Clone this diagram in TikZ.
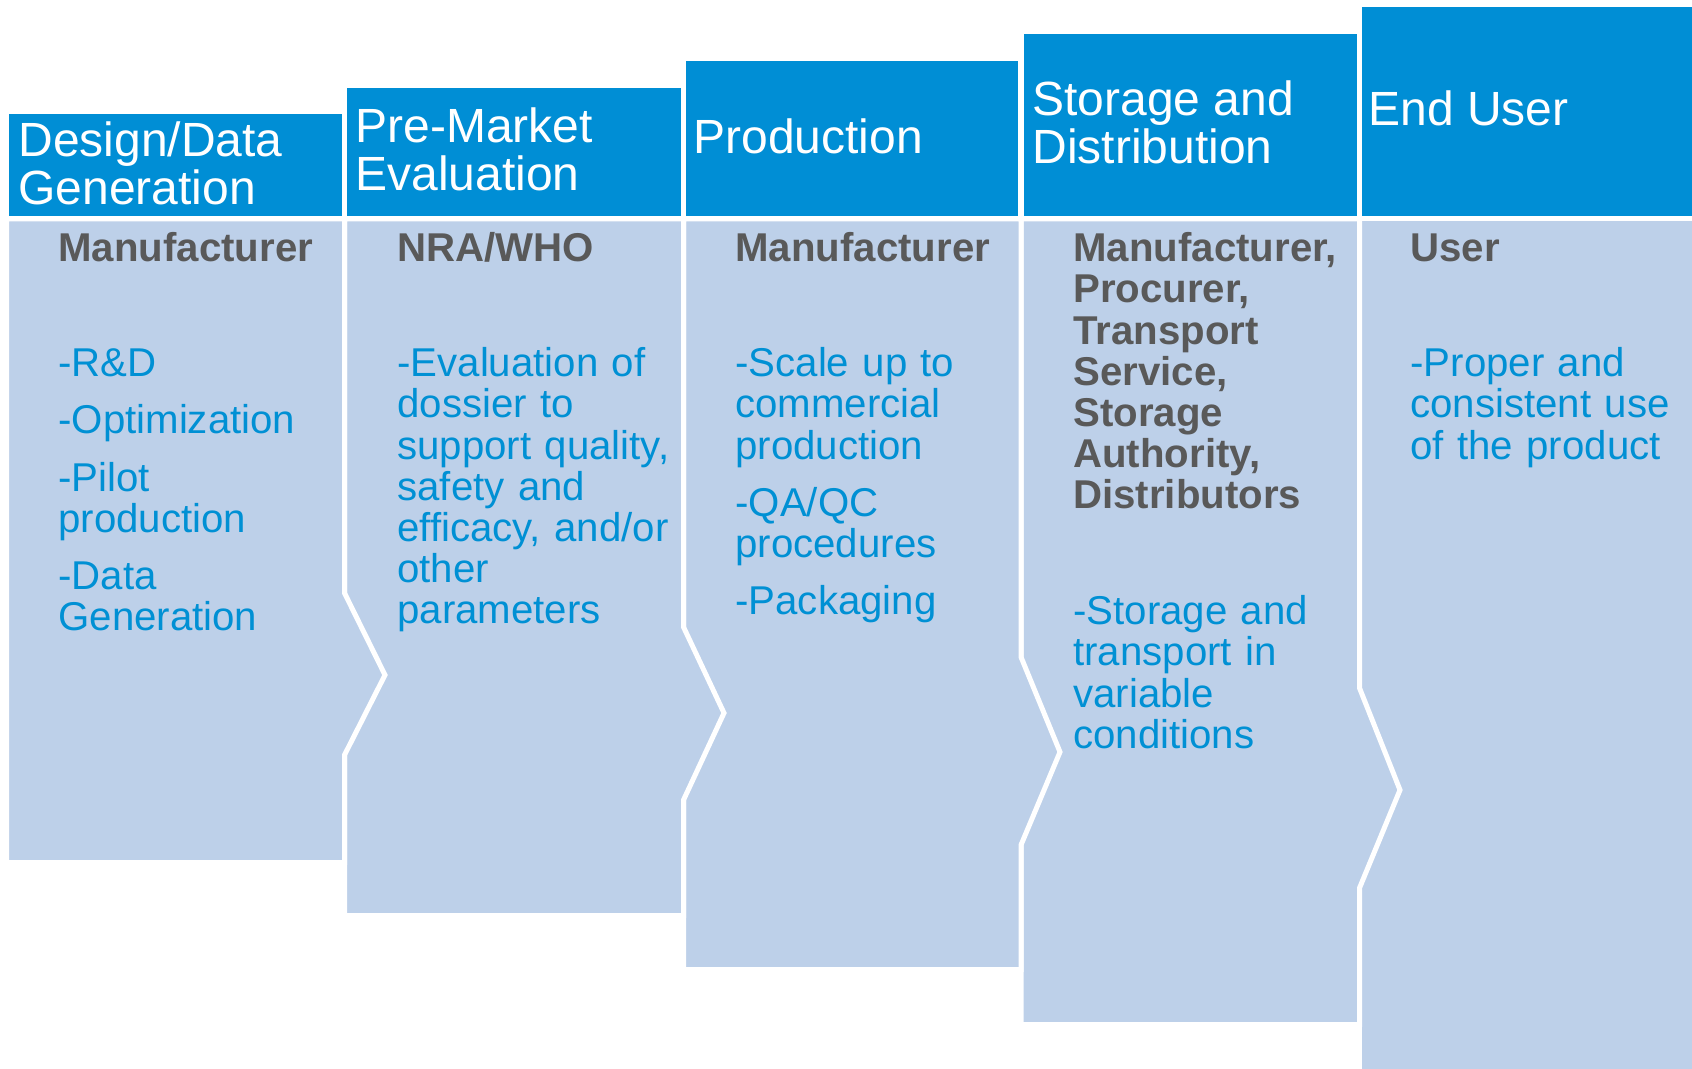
\documentclass[tikz,border=0pt]{standalone}
\usepackage{fontspec}
\setmainfont{Liberation Sans}
\usepackage{tikz}

\definecolor{hdblue}{RGB}{0,142,213}
\definecolor{bdblue}{RGB}{189,208,233}
\definecolor{txgray}{RGB}{89,89,89}
\definecolor{txblue}{RGB}{0,144,212}

\tikzset{
  colbody/.style={fill=bdblue,draw=white,line width=2.5pt},
  hdtext/.style={anchor=west,inner sep=0pt,text=white,align=left,
    font=\fontsize{24}{24}\selectfont},
  role/.style={anchor=base west,inner sep=0pt,text=txgray,text width=170pt,
    align=left,font=\fontsize{20.1}{20.6}\selectfont\bfseries},
  task/.style={anchor=base west,inner sep=0pt,text=txblue,text width=170pt,
    align=left,font=\fontsize{20.1}{20.6}\selectfont}
}

\begin{document}
\begin{tikzpicture}[x=0.5pt,y=-0.5pt]
    \useasboundingbox (0,0) rectangle (1692,1069);

    % draw body columns, last one first so each tip lies over its neighbour
    \draw[colbody] (1359.5,219) rectangle (1700,1075);
    \foreach \l/\r/\b/\ya/\tx/\ty/\yb in {1021/1359.5/1024.5/688/1400/790/888,
        683.5/1021/969.5/657/1060/752/845,
        344.5/683.5/915.5/627/724/713/800,
        6.5/344.5/862.5/593/385/675/755}
      \draw[colbody] (\l,219) -- (\r,219) -- (\r,\ya) -- (\tx,\ty) -- (\r,\yb)
        -- (\r,\b) -- (\l,\b) -- cycle;

    % draw header boxes
    \foreach \l/\r/\t in {9/342/114,347/681/88,686/1018/61,1024/1357/34,1362/1692/7}
      \fill[hdblue] (\l,\t) rectangle (\r,216);

    % header texts
    \node[hdtext] (hd1) at (18,163) {Design/Data\\Generation};
    \node[hdtext] (hd2) at (355,149) {Pre-Market\\Evaluation};
    \node[hdtext] (hd3) at (693,136) {Production};
    \node[hdtext] (hd4) at (1032,122) {Storage and\\Distribution};
    \node[hdtext] (hd5) at (1368,108) {End User};

    % who does it
    \node[role] (role1) at (58,261.7) {Manufacturer};
    \node[role] (role2) at (397,261.7) {NRA/WHO};
    \node[role] (role3) at (735,261.7) {Manufacturer};
    \node[role] (role4) at (1073,261.7) {Manufacturer,\\Procurer,\\Transport\\Service,\\Storage\\Authority,\\Distributors};
    \node[role] (role5) at (1410,261.7) {User};

    % what is done
    \node[task] (task1) at (58,376.7) {-R\&D\\[8pt]-Optimization\\[8pt]-Pilot\\production\\[8pt]-Data\\Generation};
    \node[task] (task2) at (397,376.7) {-Evaluation of\\dossier to\\support quality,\\safety and\\efficacy, and/or\\other\\parameters};
    \node[task] (task3) at (735,376.7) {-Scale up to\\commercial\\production\\[8pt]-QA/QC\\procedures\\[8pt]-Packaging};
    \node[task] (task4) at (1073,624.7) {-Storage and\\transport in\\variable\\conditions};
    \node[task] (task5) at (1410,376.7) {-Proper and\\consistent use\\of the product};
\end{tikzpicture}
\end{document}
